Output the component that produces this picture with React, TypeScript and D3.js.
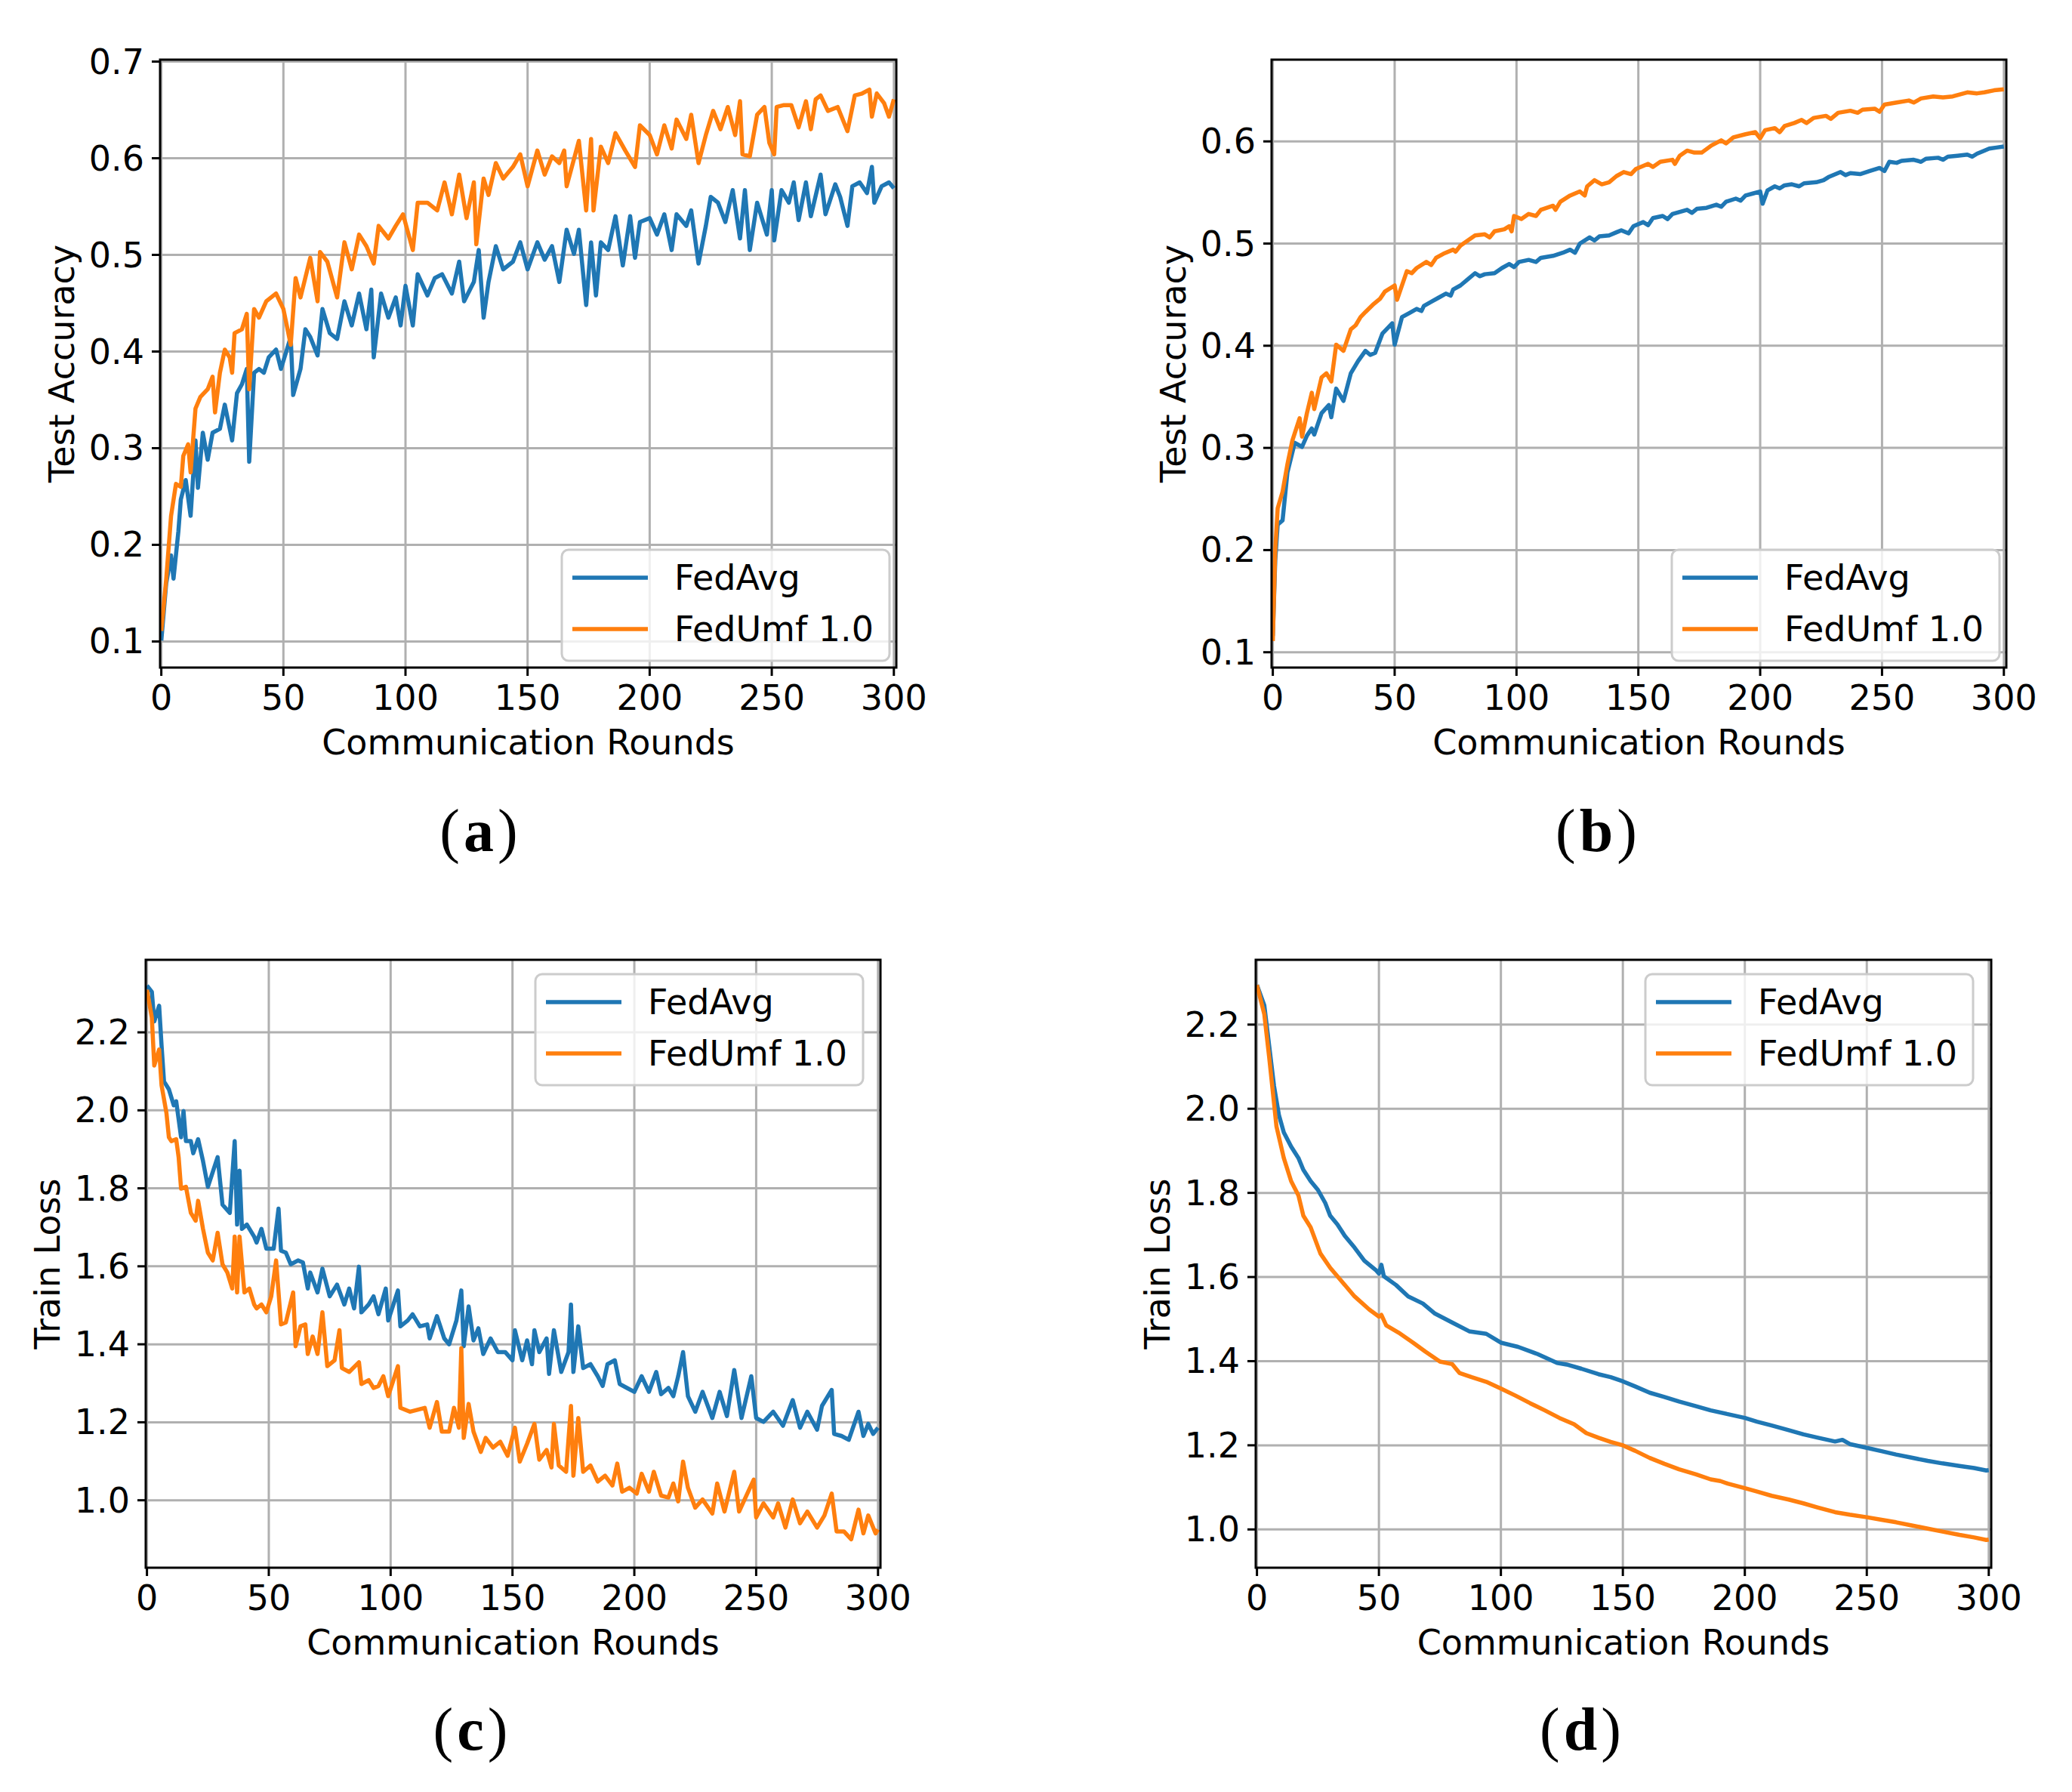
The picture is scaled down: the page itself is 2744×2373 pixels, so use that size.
import * as d3 from "d3";

// values, as [round, value]
const accAvgA: [number, number][] = [[0,0.101],[2,0.160],[4,0.189],[5,0.165],[7,0.214],[8,0.247],[10,0.267],[12,0.230],[14,0.308],[15,0.259],[17,0.316],[19,0.288],[21,0.316],[24,0.320],[26,0.345],[29,0.308],[31,0.357],[33,0.366],[35,0.382],[36,0.286],[38,0.378],[40,0.382],[42,0.378],[44,0.394],[47,0.402],[49,0.382],[53,0.415],[54,0.355],[57,0.382],[59,0.423],[61,0.415],[64,0.396],[66,0.444],[69,0.419],[72,0.413],[75,0.452],[78,0.427],[81,0.460],[84,0.423],[86,0.464],[87,0.394],[90,0.460],[93,0.435],[96,0.456],[98,0.427],[100,0.468],[103,0.427],[105,0.480],[109,0.458],[112,0.476],[115,0.480],[119,0.460],[122,0.493],[124,0.452],[128,0.472],[130,0.505],[132,0.435],[134,0.472],[137,0.509],[140,0.485],[144,0.493],[147,0.513],[150,0.485],[154,0.513],[157,0.495],[160,0.509],[163,0.472],[166,0.526],[169,0.501],[171,0.526],[174,0.448],[176,0.513],[178,0.458],[180,0.513],[183,0.505],[186,0.540],[189,0.489],[192,0.540],[194,0.497],[196,0.534],[200,0.538],[203,0.521],[206,0.542],[209,0.505],[211,0.542],[215,0.530],[217,0.546],[220,0.491],[223,0.530],[225,0.560],[228,0.554],[231,0.534],[234,0.567],[237,0.517],[239,0.567],[241,0.505],[244,0.554],[248,0.521],[250,0.567],[251,0.515],[254,0.567],[257,0.554],[259,0.575],[261,0.536],[264,0.575],[266,0.540],[270,0.583],[272,0.542],[276,0.573],[278,0.560],[281,0.530],[283,0.571],[286,0.575],[289,0.564],[291,0.591],[292,0.554],[295,0.571],[298,0.575],[300,0.569]];
const accUmfA: [number, number][] = [[0,0.111],[2,0.164],[4,0.230],[6,0.263],[8,0.260],[9,0.292],[11,0.304],[12,0.275],[14,0.341],[16,0.353],[19,0.361],[21,0.374],[22,0.337],[24,0.378],[26,0.402],[28,0.394],[29,0.378],[30,0.419],[33,0.423],[35,0.439],[36,0.361],[38,0.444],[40,0.435],[43,0.452],[47,0.460],[50,0.444],[53,0.407],[55,0.476],[57,0.456],[61,0.497],[64,0.452],[65,0.503],[68,0.493],[72,0.456],[75,0.513],[78,0.485],[81,0.521],[84,0.509],[87,0.491],[89,0.530],[93,0.517],[96,0.530],[99,0.542],[103,0.505],[105,0.554],[109,0.554],[113,0.546],[116,0.575],[119,0.542],[122,0.583],[125,0.538],[128,0.575],[129,0.511],[132,0.579],[134,0.562],[137,0.595],[140,0.579],[144,0.591],[147,0.604],[150,0.571],[154,0.608],[157,0.583],[160,0.602],[163,0.595],[165,0.608],[166,0.571],[171,0.618],[174,0.546],[176,0.620],[177,0.546],[180,0.612],[183,0.595],[186,0.626],[190,0.608],[194,0.591],[196,0.634],[200,0.624],[203,0.604],[206,0.634],[209,0.610],[211,0.640],[215,0.620],[217,0.645],[220,0.595],[223,0.624],[226,0.649],[229,0.630],[232,0.653],[235,0.624],[237,0.659],[238,0.604],[241,0.602],[244,0.645],[247,0.653],[249,0.616],[251,0.604],[252,0.653],[255,0.655],[258,0.655],[261,0.632],[264,0.659],[266,0.630],[268,0.661],[270,0.665],[273,0.649],[277,0.653],[281,0.628],[284,0.665],[287,0.667],[290,0.671],[291,0.643],[293,0.667],[296,0.657],[298,0.643],[300,0.661]];

const accAvgB: [number, number][] = [[0,0.116],[1,0.190],[2,0.225],[4,0.229],[6,0.276],[9,0.305],[12,0.301],[14,0.312],[16,0.319],[17,0.313],[20,0.334],[23,0.342],[24,0.330],[26,0.358],[29,0.346],[32,0.373],[35,0.385],[38,0.395],[40,0.391],[42,0.393],[45,0.412],[49,0.422],[50,0.401],[53,0.428],[56,0.432],[59,0.436],[61,0.434],[62,0.439],[65,0.443],[68,0.447],[71,0.451],[73,0.449],[74,0.455],[77,0.459],[80,0.465],[83,0.471],[85,0.468],[87,0.470],[91,0.471],[94,0.476],[97,0.480],[99,0.477],[101,0.482],[105,0.484],[108,0.482],[110,0.486],[115,0.488],[119,0.491],[122,0.494],[124,0.491],[126,0.500],[130,0.506],[132,0.503],[134,0.507],[138,0.508],[141,0.511],[143,0.513],[146,0.510],[148,0.517],[152,0.521],[154,0.518],[156,0.525],[160,0.527],[162,0.524],[164,0.529],[167,0.531],[170,0.533],[172,0.530],[174,0.534],[178,0.535],[182,0.538],[184,0.536],[186,0.541],[190,0.544],[192,0.542],[194,0.547],[197,0.549],[200,0.551],[201,0.539],[203,0.552],[206,0.556],[208,0.554],[210,0.557],[213,0.558],[216,0.556],[218,0.559],[223,0.560],[226,0.562],[228,0.565],[233,0.570],[235,0.567],[237,0.569],[241,0.568],[245,0.571],[249,0.574],[251,0.571],[253,0.580],[256,0.579],[258,0.581],[263,0.582],[266,0.580],[268,0.583],[273,0.584],[275,0.582],[277,0.585],[281,0.586],[285,0.587],[287,0.585],[289,0.588],[292,0.591],[294,0.593],[297,0.594],[300,0.595]];
const accUmfB: [number, number][] = [[0,0.111],[1,0.200],[2,0.241],[4,0.257],[6,0.284],[8,0.307],[11,0.329],[12,0.311],[14,0.334],[16,0.354],[17,0.338],[20,0.369],[22,0.373],[24,0.365],[26,0.401],[29,0.395],[32,0.416],[34,0.420],[36,0.428],[38,0.433],[41,0.440],[44,0.446],[46,0.453],[50,0.459],[51,0.445],[55,0.473],[57,0.471],[59,0.476],[63,0.482],[65,0.479],[67,0.486],[70,0.490],[74,0.494],[75,0.492],[77,0.498],[80,0.503],[83,0.508],[87,0.509],[89,0.506],[91,0.512],[95,0.514],[97,0.517],[98,0.512],[99,0.527],[102,0.524],[105,0.529],[108,0.527],[110,0.533],[115,0.537],[116,0.533],[118,0.541],[122,0.547],[126,0.551],[128,0.547],[129,0.556],[132,0.562],[135,0.558],[138,0.560],[141,0.566],[144,0.570],[147,0.568],[149,0.573],[154,0.578],[156,0.575],[159,0.580],[164,0.582],[165,0.578],[167,0.586],[170,0.591],[173,0.589],[176,0.589],[180,0.596],[184,0.601],[186,0.598],[189,0.604],[194,0.607],[198,0.609],[200,0.603],[202,0.611],[206,0.613],[208,0.609],[210,0.615],[214,0.618],[217,0.621],[219,0.618],[222,0.623],[227,0.625],[229,0.622],[232,0.628],[237,0.630],[240,0.628],[242,0.631],[247,0.632],[249,0.629],[251,0.636],[256,0.638],[261,0.640],[263,0.638],[266,0.642],[271,0.644],[275,0.643],[279,0.644],[285,0.648],[289,0.647],[292,0.648],[296,0.650],[300,0.651]];

const lossAvgC: [number, number][] = [[0,2.320],[2,2.304],[3,2.228],[5,2.268],[6,2.166],[7,2.074],[9,2.054],[11,2.013],[12,2.023],[14,1.931],[15,1.998],[16,1.921],[18,1.921],[19,1.890],[21,1.926],[23,1.870],[25,1.804],[29,1.880],[31,1.758],[34,1.737],[36,1.921],[37,1.707],[38,1.845],[39,1.696],[41,1.707],[44,1.676],[45,1.661],[47,1.696],[49,1.645],[52,1.645],[54,1.748],[55,1.640],[57,1.635],[59,1.605],[62,1.615],[64,1.610],[66,1.543],[67,1.584],[70,1.533],[72,1.594],[75,1.523],[78,1.553],[81,1.502],[83,1.543],[85,1.492],[87,1.599],[88,1.482],[91,1.502],[93,1.523],[95,1.477],[98,1.543],[99,1.461],[103,1.538],[104,1.446],[107,1.461],[109,1.477],[112,1.446],[115,1.451],[116,1.415],[119,1.472],[122,1.415],[124,1.400],[127,1.461],[129,1.538],[130,1.395],[132,1.497],[134,1.410],[136,1.441],[138,1.375],[141,1.415],[144,1.380],[147,1.380],[150,1.359],[151,1.436],[154,1.359],[156,1.410],[158,1.349],[159,1.436],[161,1.380],[164,1.415],[165,1.324],[167,1.436],[170,1.329],[173,1.380],[174,1.502],[175,1.329],[177,1.446],[179,1.339],[182,1.349],[185,1.318],[187,1.293],[189,1.349],[192,1.359],[194,1.298],[197,1.288],[200,1.278],[203,1.318],[206,1.278],[209,1.329],[211,1.272],[214,1.288],[216,1.267],[218,1.318],[220,1.380],[222,1.267],[225,1.227],[228,1.278],[232,1.211],[235,1.278],[238,1.216],[241,1.334],[244,1.211],[248,1.318],[250,1.211],[253,1.201],[257,1.227],[261,1.191],[265,1.257],[268,1.186],[271,1.227],[275,1.181],[277,1.242],[281,1.283],[282,1.170],[285,1.165],[288,1.155],[292,1.227],[294,1.165],[296,1.196],[298,1.170],[300,1.186]];
const lossUmfC: [number, number][] = [[0,2.309],[2,2.238],[3,2.115],[5,2.156],[6,2.064],[8,1.993],[9,1.931],[10,1.921],[12,1.926],[13,1.880],[14,1.799],[16,1.804],[18,1.737],[20,1.717],[21,1.768],[23,1.696],[25,1.635],[27,1.615],[29,1.686],[31,1.605],[33,1.584],[35,1.543],[36,1.676],[37,1.533],[38,1.676],[40,1.533],[42,1.543],[44,1.502],[45,1.492],[47,1.502],[49,1.482],[51,1.523],[53,1.615],[55,1.451],[57,1.456],[60,1.533],[61,1.395],[63,1.446],[65,1.451],[66,1.375],[68,1.420],[70,1.375],[72,1.482],[74,1.344],[77,1.359],[79,1.436],[80,1.339],[83,1.329],[87,1.354],[88,1.298],[91,1.308],[93,1.288],[95,1.293],[97,1.318],[99,1.267],[103,1.344],[104,1.237],[108,1.227],[111,1.232],[114,1.237],[116,1.186],[119,1.252],[121,1.176],[124,1.176],[126,1.237],[128,1.186],[129,1.390],[130,1.160],[132,1.247],[134,1.176],[137,1.124],[139,1.160],[142,1.135],[145,1.150],[148,1.114],[151,1.186],[153,1.099],[156,1.145],[159,1.196],[161,1.104],[164,1.129],[166,1.084],[167,1.196],[169,1.089],[172,1.073],[174,1.242],[175,1.063],[177,1.211],[179,1.073],[182,1.089],[185,1.048],[188,1.063],[191,1.038],[193,1.094],[195,1.022],[198,1.032],[201,1.017],[203,1.068],[206,1.022],[208,1.073],[211,1.012],[214,1.007],[216,1.043],[218,0.997],[220,1.099],[222,1.032],[225,0.981],[228,1.002],[232,0.966],[234,1.043],[237,0.971],[241,1.073],[243,0.971],[246,1.012],[249,1.053],[250,0.956],[253,0.992],[257,0.956],[259,0.992],[262,0.930],[265,1.002],[268,0.941],[271,0.971],[275,0.930],[278,0.961],[281,1.017],[283,0.920],[286,0.920],[289,0.900],[292,0.976],[294,0.915],[296,0.961],[299,0.915],[300,0.925]];

const lossAvgD: [number, number][] = [[0,2.294],[3,2.246],[5,2.150],[7,2.054],[9,1.985],[11,1.944],[14,1.910],[17,1.883],[19,1.855],[22,1.828],[25,1.807],[28,1.776],[30,1.746],[33,1.725],[36,1.698],[40,1.670],[44,1.639],[49,1.615],[50,1.608],[51,1.629],[52,1.602],[57,1.581],[62,1.554],[68,1.537],[73,1.513],[80,1.492],[87,1.471],[94,1.465],[100,1.444],[107,1.434],[115,1.417],[123,1.396],[127,1.392],[133,1.382],[140,1.369],[145,1.362],[150,1.352],[155,1.340],[161,1.325],[167,1.315],[173,1.304],[180,1.293],[186,1.283],[193,1.274],[200,1.265],[205,1.256],[211,1.247],[218,1.236],[224,1.226],[230,1.218],[237,1.209],[240,1.213],[243,1.203],[250,1.194],[256,1.186],[262,1.178],[268,1.171],[275,1.163],[281,1.157],[288,1.151],[294,1.146],[299,1.140],[300,1.141]];
const lossUmfD: [number, number][] = [[0,2.294],[3,2.225],[5,2.123],[7,2.013],[8,1.958],[11,1.883],[14,1.828],[17,1.794],[19,1.746],[22,1.718],[26,1.656],[30,1.622],[35,1.588],[40,1.554],[46,1.523],[50,1.506],[51,1.510],[53,1.485],[58,1.468],[64,1.444],[69,1.423],[75,1.399],[80,1.393],[83,1.372],[88,1.362],[94,1.351],[100,1.335],[106,1.318],[112,1.300],[118,1.283],[124,1.265],[130,1.250],[135,1.229],[140,1.218],[145,1.208],[150,1.200],[155,1.187],[161,1.170],[167,1.156],[173,1.143],[180,1.131],[186,1.119],[190,1.115],[193,1.109],[200,1.098],[205,1.090],[211,1.080],[218,1.071],[224,1.062],[230,1.052],[237,1.041],[243,1.035],[250,1.029],[256,1.023],[262,1.017],[268,1.010],[275,1.002],[281,0.995],[288,0.987],[294,0.981],[299,0.975],[300,0.976]];

const roundTicks = [0, 50, 100, 150, 200, 250, 300];
const accTicksA = [0.1, 0.2, 0.3, 0.4, 0.5, 0.6, 0.7];
const accTicksB = [0.1, 0.2, 0.3, 0.4, 0.5, 0.6];
const lossTicks = [1.0, 1.2, 1.4, 1.6, 1.8, 2.0, 2.2];
const seriesNames = ["FedAvg", "FedUmf 1.0"];

const BLUE = "#1f77b4";
const ORANGE = "#ff7f0e";
const GRID = "#b0b0b0";
const FONT = "'DejaVu Sans', sans-serif";
const FS = 46;

type Pt = [number, number];

function Panel(props: any) {
  const { id, left, top, w, h, yDomain, yTicks, yLabel, avg, umf, legend, caption, capX, capY } = props;
  const xs = d3.scaleLinear().domain([-0.5, 301]).range([left, left + w]);
  const ys = d3.scaleLinear().domain(yDomain).range([top + h, top]);
  const line = d3.line<Pt>().x(d => xs(d[0])).y(d => ys(d[1]));
  const fmt = d3.format(".1f");
  const tickLen = 11;

  return (
    <g>
      <defs>
        <clipPath id={"clip-" + id}>
          <rect x={left} y={top} width={w} height={h} />
        </clipPath>
      </defs>
      {/* grid */}
      {roundTicks.map(t => (
        <line key={"gx" + t} x1={xs(t)} x2={xs(t)} y1={top} y2={top + h} stroke={GRID} strokeWidth={3} />
      ))}
      {yTicks.map((t: number) => (
        <line key={"gy" + t} x1={left} x2={left + w} y1={ys(t)} y2={ys(t)} stroke={GRID} strokeWidth={3} />
      ))}
      {/* series */}
      <g clipPath={`url(#clip-${id})`} fill="none" strokeWidth={5.5} strokeLinejoin="round">
        <path d={line(avg) || ""} stroke={BLUE} />
        <path d={line(umf) || ""} stroke={ORANGE} />
      </g>
      {/* spines */}
      <rect x={left} y={top} width={w} height={h} fill="none" stroke="#000" strokeWidth={3} />
      {/* x ticks */}
      {roundTicks.map(t => (
        <g key={"xt" + t}>
          <line x1={xs(t)} x2={xs(t)} y1={top + h} y2={top + h + tickLen} stroke="#000" strokeWidth={3} />
          <text x={xs(t)} y={top + h + 56} textAnchor="middle" fontFamily={FONT} fontSize={FS}>{t}</text>
        </g>
      ))}
      {/* y ticks */}
      {yTicks.map((t: number) => (
        <g key={"yt" + t}>
          <line x1={left - tickLen} x2={left} y1={ys(t)} y2={ys(t)} stroke="#000" strokeWidth={3} />
          <text x={left - 21} y={ys(t) + 16} textAnchor="end" fontFamily={FONT} fontSize={FS}>{fmt(t)}</text>
        </g>
      ))}
      {/* axis labels */}
      <text x={left + w / 2} y={top + h + 115} textAnchor="middle" fontFamily={FONT} fontSize={FS}>Communication Rounds</text>
      <text transform={`translate(${left - 114},${top + h / 2}) rotate(-90)`} textAnchor="middle" fontFamily={FONT} fontSize={FS}>{yLabel}</text>
      {/* legend */}
      <g>
        <rect x={legend.x} y={legend.y} width={434} height={147} rx={9} fill="#fff" fillOpacity={0.8} stroke="#cccccc" strokeWidth={3} />
        {[BLUE, ORANGE].map((c, i) => (
          <g key={"lg" + i}>
            <line x1={legend.x + 14} x2={legend.x + 114} y1={legend.y + 37 + i * 68} y2={legend.y + 37 + i * 68} stroke={c} strokeWidth={5.5} />
            <text x={legend.x + 149} y={legend.y + 37 + i * 68 + 16} fontFamily={FONT} fontSize={FS}>{seriesNames[i]}</text>
          </g>
        ))}
      </g>
      {/* caption: thin parentheses, bold letter */}
      <text x={capX} y={capY} textAnchor="middle" fontFamily="'Liberation Serif', serif" fontSize={80}>
        <tspan>(</tspan>
        <tspan dx={5} fontWeight="bold">{caption}</tspan>
        <tspan dx={5}>)</tspan>
      </text>
    </g>
  );
}

export default function App() {
  return (
    <svg width={2744} height={2373} style={{ position: "absolute", left: 0, top: 0, display: "block", background: "#fff" }}>
      <rect width={2744} height={2373} fill="#fff" />
      <Panel id="a" left={212} top={79} w={975} h={805} yDomain={[0.073, 0.702]} yTicks={accTicksA} yLabel="Test Accuracy"
        avg={accAvgA} umf={accUmfA} legend={{ x: 744, y: 728 }} caption="a" capX={634} capY={1127} />
      <Panel id="b" left={1684} top={79} w={973} h={805} yDomain={[0.085, 0.68]} yTicks={accTicksB} yLabel="Test Accuracy"
        avg={accAvgB} umf={accUmfB} legend={{ x: 2214, y: 728 }} caption="b" capX={2114} capY={1127} />
      <Panel id="c" left={193} top={1271} w={973} h={805} yDomain={[0.827, 2.386]} yTicks={lossTicks} yLabel="Train Loss"
        avg={lossAvgC} umf={lossUmfC} legend={{ x: 709, y: 1290 }} caption="c" capX={623} capY={2317} />
      <Panel id="d" left={1663} top={1271} w={974} h={805} yDomain={[0.909, 2.354]} yTicks={lossTicks} yLabel="Train Loss"
        avg={lossAvgD} umf={lossUmfD} legend={{ x: 2179, y: 1290 }} caption="d" capX={2093} capY={2317} />
    </svg>
  );
}
